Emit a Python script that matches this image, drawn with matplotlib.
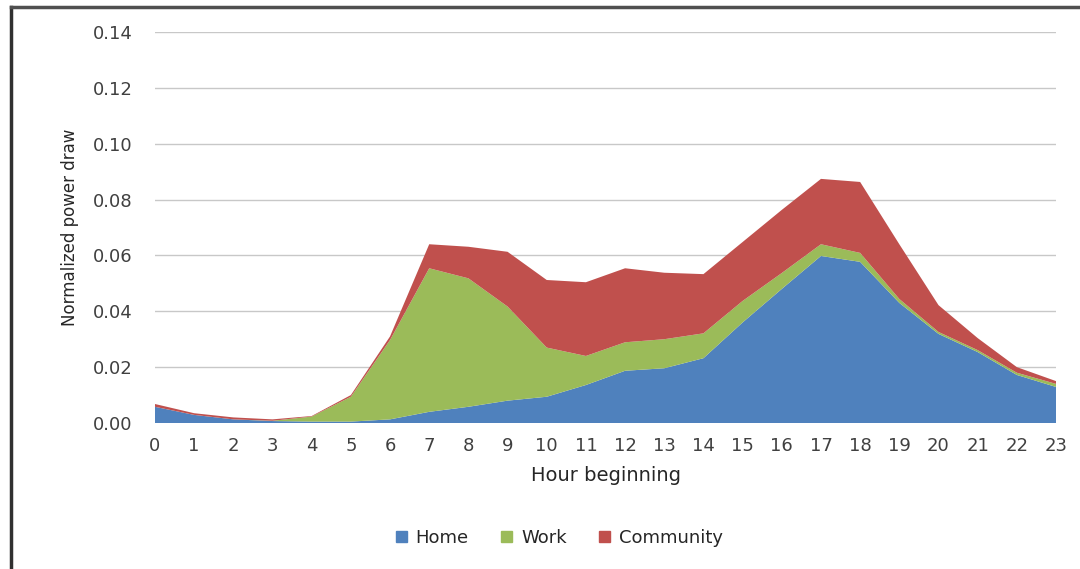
import numpy as np
import matplotlib
matplotlib.use("Agg")
import matplotlib.pyplot as plt
from matplotlib.patches import Patch

hours = np.arange(24)
home = [0.0058, 0.0029, 0.0013, 0.0007, 0.0005, 0.0005, 0.0013, 0.0040,
        0.0058, 0.0080, 0.0094, 0.0136, 0.0187, 0.0196, 0.0232, 0.0360,
        0.0480, 0.0598, 0.0577, 0.0430, 0.0319, 0.0254, 0.0172, 0.0129]
work = [0.0000, 0.0000, 0.0000, 0.0001, 0.0018, 0.0089, 0.0284, 0.0514,
        0.0460, 0.0337, 0.0176, 0.0104, 0.0102, 0.0104, 0.0089, 0.0077,
        0.0057, 0.0042, 0.0032, 0.0014, 0.0007, 0.0007, 0.0008, 0.0011]
community = [0.0010, 0.0006, 0.0007, 0.0005, 0.0002, 0.0006, 0.0013, 0.0086,
             0.0113, 0.0196, 0.0242, 0.0264, 0.0265, 0.0238, 0.0212, 0.0211,
             0.0226, 0.0234, 0.0254, 0.0196, 0.0096, 0.0043, 0.0020, 0.0010]
labels = ["Home", "Work", "Community"]
colors = ["#4F81BD", "#9BBB59", "#C0504D"]

fig = plt.figure(figsize=(10.8, 5.69), dpi=100)
ax = fig.add_axes([0.1435, 0.2566, 0.8343, 0.6872])

ax.stackplot(hours, home, work, community, colors=colors, linewidth=0)

ax.set_xlim(0, 23)
ax.set_ylim(0, 0.14)
ax.set_yticks(np.arange(0, 0.141, 0.02))
ax.set_yticklabels([f"{v:.2f}" for v in np.arange(0, 0.141, 0.02)])
ax.set_xticks(hours)
ax.tick_params(length=0, labelsize=13, colors="#404040", pad=10)
ax.tick_params(axis="y", pad=16)
ax.grid(axis="y", color="#c8c8c8", linewidth=1)
ax.set_axisbelow(True)
for s in ax.spines.values():
    s.set_visible(False)

ax.set_xlabel("Hour beginning", fontsize=14, color="#262626", labelpad=8)
ax.set_ylabel("Normalized power draw", fontsize=12, color="#262626", labelpad=10)

handles = [Patch(color=c, label=l) for c, l in zip(colors, labels)]
fig.legend(handles=handles, loc="center", bbox_to_anchor=(0.518, 0.055), ncol=3,
           frameon=False, fontsize=13, handlelength=0.6, handleheight=0.6,
           handletextpad=0.5, columnspacing=1.8, labelcolor="#262626")

# outer frame
fig.add_artist(plt.Line2D([0.0102, 0.0102], [0.0, 0.988], color="#303030", linewidth=2.5,
                          transform=fig.transFigure))
fig.add_artist(plt.Line2D([0.0102, 1.0], [0.988, 0.988], color="#505050", linewidth=2.5,
                          transform=fig.transFigure))

fig.savefig("out.png", dpi=100)
